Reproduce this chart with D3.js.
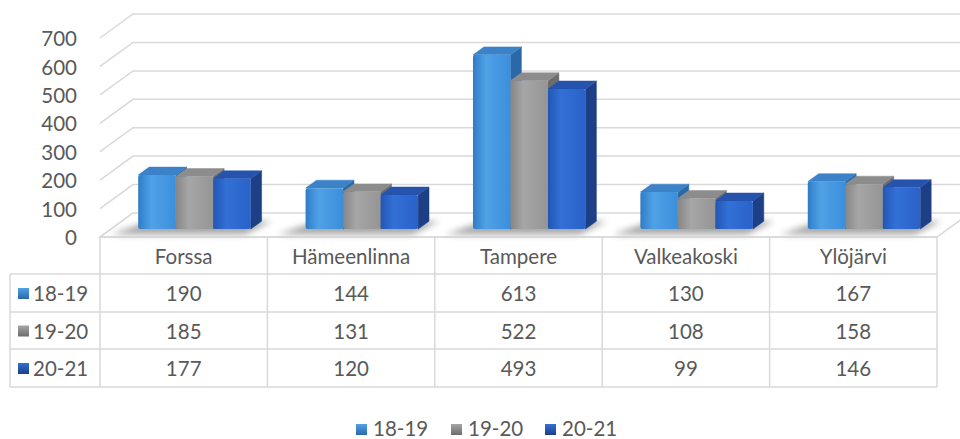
<!DOCTYPE html>
<html>
<head>
<meta charset="utf-8">
<script src="https://cdn.jsdelivr.net/npm/d3@7"></script>
<style>
  body { margin: 0; background: #fff; }
  svg text { font-family: Lato, "Noto Sans", sans-serif; fill: #595959; }
</style>
</head>
<body>
<div id="chart"></div>
<script>
(function () {
"use strict";

// data
var categories = ["Forssa", "Hämeenlinna", "Tampere", "Valkeakoski", "Ylöjärvi"];
var seriesNames = ["18-19", "19-20", "20-21"];
var v1819 = [190, 144, 613, 130, 167];
var v1920 = [185, 131, 522, 108, 158];
var v2021 = [177, 120, 493, 99, 146];
var yTicks = [0, 100, 200, 300, 400, 500, 600, 700];

var seriesValues = [v1819, v1920, v2021];
var colors = [
  { light: "#4fa2e6", front: "#3b8edb", dark: "#2f7cc6", side: "#2b68a8", top: "#3b82c9" },
  { light: "#a6a6a6", front: "#959595", dark: "#868686", side: "#6c6c6c", top: "#8c8c8c" },
  { light: "#3370d6", front: "#2962c9", dark: "#2256b5", side: "#1c3f86", top: "#2553ae" }
];

var width = 960, height = 439;
var left = 100, right = 937, frontY = 237;
var dx = 33, dy = 24;          // depth of the plot box
var zFront = 0.33, zBack = 0.66; // depth of bars
var fs = 20.5;

var svg = d3.select("#chart").append("svg")
  .attr("width", width)
  .attr("height", height);

var defs = svg.append("defs");
colors.forEach(function (c, i) {
  var g = defs.append("linearGradient").attr("id", "front" + i)
    .attr("x1", 0).attr("x2", 1).attr("y1", 0).attr("y2", 0);
  g.append("stop").attr("offset", "0%").attr("stop-color", c.dark);
  g.append("stop").attr("offset", "35%").attr("stop-color", c.light);
  g.append("stop").attr("offset", "100%").attr("stop-color", c.front);
  var k = defs.append("linearGradient").attr("id", "key" + i)
    .attr("x1", 0).attr("x2", 0).attr("y1", 0).attr("y2", 1);
  k.append("stop").attr("offset", "0%").attr("stop-color", c.light);
  k.append("stop").attr("offset", "100%").attr("stop-color", c.side);
});
defs.append("filter").attr("id", "blur")
  .attr("x", "-50%").attr("y", "-100%").attr("width", "200%").attr("height", "300%")
  .append("feGaussianBlur").attr("stdDeviation", 3);

var y = d3.scaleLinear().domain([0, 700]).range([0, 199]);
var x = d3.scaleBand().domain(categories).range([left, right]).padding(0);
var xs = d3.scaleBand().domain(seriesNames)
  .range([x.bandwidth() * 0.163, x.bandwidth() * 0.835]).padding(0);

// project (px, value, depth) to screen
function P(px, v, z) {
  return [px + z * dx, frontY - z * dy - y(v)];
}
function poly(pts) {
  return pts.map(function (p) { return p[0].toFixed(1) + "," + p[1].toFixed(1); }).join(" ");
}

// floor
svg.append("polygon")
  .attr("points", poly([P(left, 0, 0), P(right, 0, 0), P(right, 0, 1), P(left, 0, 1)]))
  .attr("fill", "#fff").attr("stroke", "#d9d9d9").attr("stroke-width", 1.5);

// gridlines (left wall + back wall)
var grid = svg.append("g").attr("fill", "none").attr("stroke", "#d9d9d9").attr("stroke-width", 1.5);
yTicks.filter(function (t) { return t > 0; }).forEach(function (t) {
  grid.append("polyline")
    .attr("points", poly([P(left, t, 0), P(left, t, 1), P(right, t, 1)]));
});
grid.append("line")
  .attr("x1", P(left, 0, 0)[0]).attr("y1", P(left, 0, 0)[1])
  .attr("x2", P(left, 0, 1)[0]).attr("y2", P(left, 0, 1)[1]);

// y labels
svg.append("g").selectAll("text").data(yTicks).enter().append("text")
  .attr("x", 77)
  .attr("y", function (d) { return frontY + 1 - y(d); })
  .attr("dy", "0.35em")
  .attr("text-anchor", "end")
  .attr("font-size", fs)
  .text(function (d) { return d; });

// bars
var barsG = svg.append("g");
categories.forEach(function (cat, ci) {
  var g = barsG.append("g");
  var gx0 = x(cat) + xs(seriesNames[0]);
  var gx1 = x(cat) + xs(seriesNames[2]) + xs.bandwidth();
  // soft shadow on the floor
  g.append("polygon")
    .attr("points", poly([P(gx0 - 20, 0, 0.1), P(gx1 + 2, 0, 0.1), P(gx1 + 10, 0, zBack), P(gx0, 0, zBack)]))
    .attr("fill", "#6f6f6f").attr("opacity", 0.6).attr("filter", "url(#blur)");

  seriesNames.forEach(function (s, si) {
    var v = seriesValues[si][ci];
    var c = colors[si];
    var bx0 = x(cat) + xs(s), bx1 = bx0 + xs.bandwidth();
    // side
    g.append("polygon")
      .attr("points", poly([P(bx1, 0, zFront), P(bx1, 0, zBack), P(bx1, v, zBack), P(bx1, v, zFront)]))
      .attr("fill", c.side).attr("stroke", c.side).attr("stroke-width", 0.5).attr("stroke-linejoin", "round");
    // top
    g.append("polygon")
      .attr("points", poly([P(bx0, v, zFront), P(bx1, v, zFront), P(bx1, v, zBack), P(bx0, v, zBack)]))
      .attr("fill", c.top).attr("stroke", c.top).attr("stroke-width", 0.5).attr("stroke-linejoin", "round");
    // front
    var f0 = P(bx0, v, zFront), f1 = P(bx1, 0, zFront);
    g.append("rect")
      .attr("x", f0[0]).attr("y", f0[1])
      .attr("width", f1[0] - f0[0]).attr("height", f1[1] - f0[1])
      .attr("rx", 2)
      .attr("fill", "url(#front" + si + ")");
  });
});

// data table
var rowY = [237, 274, 312, 349, 387];
var tab = svg.append("g").attr("stroke", "#d9d9d9").attr("stroke-width", 1.5).attr("fill", "none");
tab.append("line").attr("x1", left).attr("x2", right).attr("y1", rowY[0]).attr("y2", rowY[0]);
rowY.slice(1).forEach(function (ry) {
  tab.append("line").attr("x1", 10).attr("x2", right).attr("y1", ry).attr("y2", ry);
});
categories.concat([null]).forEach(function (cat, i) {
  var cx = i < categories.length ? x(cat) : right;
  tab.append("line").attr("x1", cx).attr("x2", cx).attr("y1", rowY[0]).attr("y2", rowY[4]);
});
tab.append("line").attr("x1", 10).attr("x2", 10).attr("y1", rowY[1]).attr("y2", rowY[4]);

var txt = svg.append("g").attr("font-size", fs).attr("text-anchor", "middle");
categories.forEach(function (cat) {
  txt.append("text")
    .attr("x", x(cat) + x.bandwidth() / 2)
    .attr("y", (rowY[0] + rowY[1]) / 2 + 1).attr("dy", "0.35em")
    .text(cat);
});
seriesNames.forEach(function (s, si) {
  var cy = (rowY[si + 1] + rowY[si + 2]) / 2;
  seriesValues[si].forEach(function (v, ci) {
    txt.append("text")
      .attr("x", x(categories[ci]) + x.bandwidth() / 2)
      .attr("y", cy + 1).attr("dy", "0.35em")
      .text(v);
  });
  svg.append("rect")
    .attr("x", 18).attr("y", cy - 5).attr("width", 11).attr("height", 11)
    .attr("fill", "url(#key" + si + ")");
  svg.append("text")
    .attr("x", 33).attr("y", cy + 1).attr("dy", "0.35em")
    .attr("font-size", fs)
    .text(s);
});

// legend
var legendX = [356, 451, 545];
var legend = svg.append("g");
seriesNames.forEach(function (s, si) {
  legend.append("rect")
    .attr("x", legendX[si]).attr("y", 424).attr("width", 11).attr("height", 11)
    .attr("fill", "url(#key" + si + ")");
  legend.append("text")
    .attr("x", legendX[si] + 17).attr("y", 429).attr("dy", "0.35em")
    .attr("font-size", fs)
    .text(s);
});

})();
</script>
</body>
</html>
